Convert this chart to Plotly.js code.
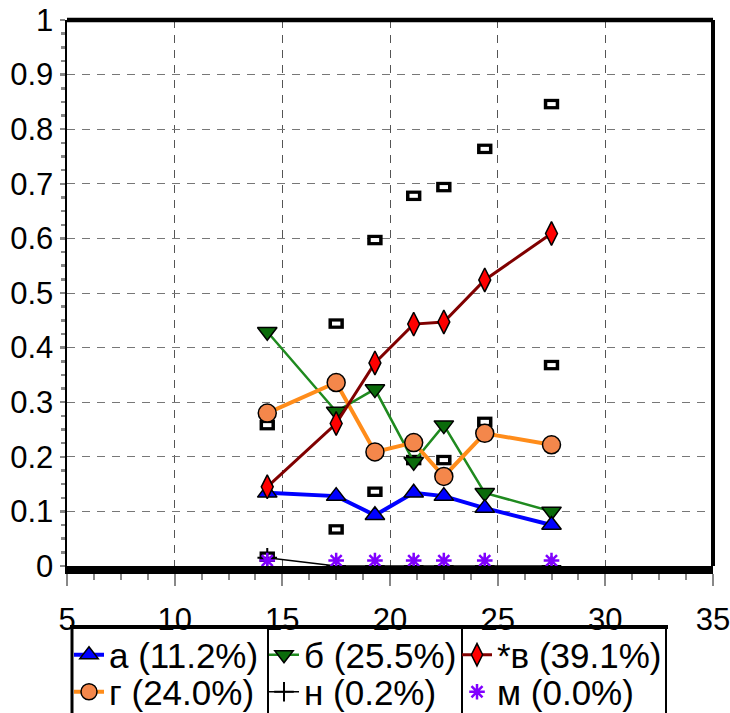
<!DOCTYPE html>
<html>
<head>
<meta charset="utf-8">
<script src="https://cdn.plot.ly/plotly-3.0.1.min.js"></script>
<style>
  html, body { margin: 0; padding: 0; background: #ffffff; }
  #chart { width: 730px; height: 713px; }
</style>
</head>
<body>
<div id="chart"></div>
<script>
// ---- data ----
const xValues   = [14.3, 17.5, 19.3, 21.1, 22.5, 24.4, 27.5];
const seriesA   = [0.134, 0.128, 0.093, 0.134, 0.128, 0.106, 0.075];
const seriesB   = [0.429, 0.283, 0.324, 0.191, 0.258, 0.134, 0.100];
const seriesV   = [0.145, 0.261, 0.372, 0.443, 0.447, 0.524, 0.609];
const seriesG   = [0.280, 0.336, 0.209, 0.226, 0.164, 0.243, 0.222];
const seriesN   = [0.015, 0, 0, 0, 0, 0, 0];
const seriesM   = [0.01, 0.01, 0.01, 0.01, 0.01, 0.01, 0.01];
const boundHigh = [0.258, 0.444, 0.597, 0.678, 0.694, 0.764, 0.846];
const boundLow  = [0.017, 0.067, 0.136, 0.194, 0.194, 0.264, 0.368];
const legendNames = ['а (11.2%)', 'б (25.5%)', '*в (39.1%)', 'г (24.0%)', 'н (0.2%)', 'м (0.0%)'];
const xTickVals = [5, 10, 15, 20, 25, 30, 35];

// ---- layout geometry (pixels) ----
const W = 730, H = 713;
const M = {l: 67, r: 17, t: 20, b: 147, autoexpand: false};
const PW = W - M.l - M.r, PH = H - M.t - M.b;
const px2x = p => (p - M.l) / PW;
const px2y = p => (H - M.b - p) / PH;

const FONT = 'Liberation Sans, Arial, Helvetica, sans-serif';

function rectTraces(yv) {
  return [
    {x: xValues, y: yv, mode: 'markers', showlegend: false, hoverinfo: 'skip',
     marker: {symbol: 'line-ew', size: 11, color: '#000', line: {color: '#000', width: 10.5}}},
    {x: xValues, y: yv, mode: 'markers', showlegend: false, hoverinfo: 'x+y',
     marker: {symbol: 'line-ew', size: 6, color: '#fff', line: {color: '#fff', width: 4}}}
  ];
}

const traces = [
  ...rectTraces(boundHigh),
  ...rectTraces(boundLow),
  {x: xValues, y: seriesN, name: legendNames[4], legend: 'legend5', mode: 'lines+markers',
   line: {color: '#000', width: 1.5},
   marker: {symbol: 'cross-thin', size: 14, color: '#000', line: {color: '#000', width: 2}}},
  {x: xValues, y: seriesB, name: legendNames[1], legend: 'legend2', mode: 'lines+markers',
   line: {color: '#1f8a1f', width: 2.5},
   marker: {symbol: 'triangle-down', size: 17, color: '#0b6b0b', line: {color: '#000', width: 1.5}}},
  {x: xValues, y: seriesA, name: legendNames[0], legend: 'legend', mode: 'lines+markers',
   line: {color: '#0000ff', width: 4},
   marker: {symbol: 'triangle-up', size: 17, color: '#0000ff', line: {color: '#000', width: 1.5}}},
  {x: xValues, y: seriesG, name: legendNames[3], legend: 'legend4', mode: 'lines+markers',
   line: {color: '#ff8c1a', width: 4},
   marker: {symbol: 'circle', size: 18, color: '#f4874b', line: {color: '#000', width: 1.5}}},
  {x: xValues, y: seriesV, name: legendNames[2], legend: 'legend3', mode: 'lines+markers',
   line: {color: '#800000', width: 3},
   marker: {symbol: 'diamond-tall', size: 17, color: '#ff0000', line: {color: '#000', width: 1.5}}},
  {x: xValues, y: seriesM, name: legendNames[5], legend: 'legend6', mode: 'markers',
   marker: {symbol: 'asterisk-open', size: 13, color: '#8000ff', line: {color: '#8000ff', width: 2.5}}}
];

function legendAt(pxLeft, pyCenter) {
  return {
    x: px2x(pxLeft), xanchor: 'left', y: px2y(pyCenter), yanchor: 'middle',
    bgcolor: 'rgba(0,0,0,0)', borderwidth: 0,
    font: {family: FONT, size: 35, color: '#000'}
  };
}

const colX = [69, 264, 457];
const rowY = [655, 692];

const lineShape = (x0, y0, x1, y1, w) => ({
  type: 'line', xref: 'paper', yref: 'paper',
  x0: px2x(x0), y0: px2y(y0), x1: px2x(x1), y1: px2y(y1),
  line: {color: '#000', width: w}
});

const layout = {
  width: W, height: H,
  margin: M,
  paper_bgcolor: '#fff', plot_bgcolor: '#fff',
  font: {family: FONT, color: '#000'},
  xaxis: {
    range: [5, 35], tickvals: xTickVals, ticktext: xTickVals.map(String),
    showline: true, linecolor: '#000', linewidth: 8,
    ticks: 'outside', ticklen: 12, tickwidth: 2, tickcolor: '#888',
    tickfont: {family: FONT, size: 31, color: '#000'},
    ticklabeloverflow: 'allow', ticklabelstandoff: 7,
    showgrid: true, gridcolor: '#555', gridwidth: 1, griddash: '8px,7px',
    zeroline: false,
    minor: {dtick: 1.25, tick0: 5, ticks: 'outside', ticklen: 6, tickwidth: 2, tickcolor: '#888', showgrid: false}
  },
  yaxis: {
    range: [0, 1], dtick: 0.1, tick0: 0,
    showline: true, linecolor: '#000', linewidth: 2.5,
    ticks: 'outside', ticklen: 5, tickwidth: 2.5, tickcolor: '#888',
    tickfont: {family: FONT, size: 31, color: '#000'},
    ticklabeloverflow: 'allow',
    showgrid: true, gridcolor: '#777', gridwidth: 1, griddash: '8px,7px',
    zeroline: false,
    minor: {dtick: 0.025, tick0: 0, ticks: 'outside', ticklen: 4, tickwidth: 2.5, tickcolor: '#888', showgrid: false}
  },
  legend:  legendAt(colX[0], rowY[0]),
  legend2: legendAt(colX[1], rowY[0]),
  legend3: legendAt(colX[2], rowY[0]),
  legend4: legendAt(colX[0], rowY[1]),
  legend5: legendAt(colX[1], rowY[1]),
  legend6: legendAt(colX[2], rowY[1]),
  shapes: [
    lineShape(M.l, M.t, W - M.r, M.t, 4.5),
    lineShape(W - M.r, M.t, W - M.r, H - M.b, 4),
    lineShape(70, 627, 668, 627, 4),
    lineShape(72, 627, 72, 720, 3),
    lineShape(268, 627, 268, 720, 2),
    lineShape(462, 627, 462, 720, 2),
    lineShape(666, 627, 666, 720, 2)
  ],
  showlegend: true
};

Plotly.newPlot('chart', traces, layout, {displayModeBar: false, staticPlot: true});
</script>
</body>
</html>
